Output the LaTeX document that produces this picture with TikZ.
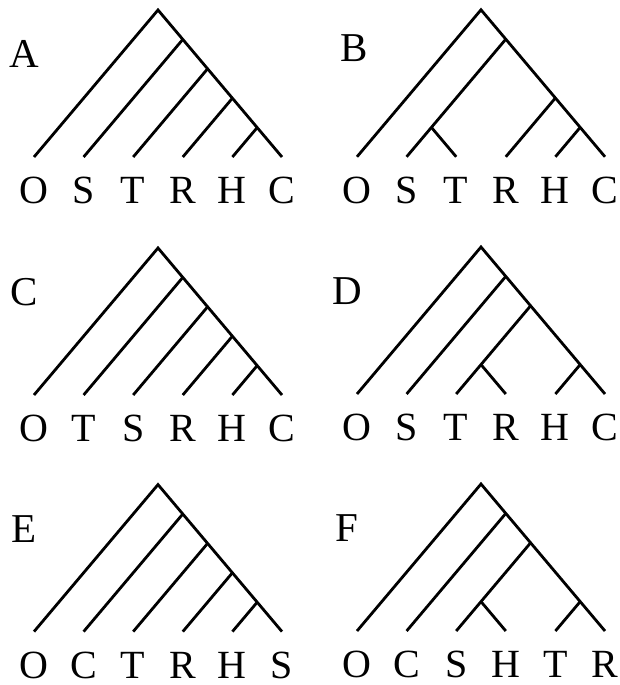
\documentclass[tikz,border=0pt]{standalone}
\usepackage{fontspec}
\setmainfont{Liberation Serif}

\begin{document}
\begin{tikzpicture}[
    x=12.4pt, y=14.7pt,
    branch/.style={line width=1.4pt},
    taxon/.style={font=\fontsize{20}{20}\selectfont, inner sep=0pt},
    panel/.style={font=\fontsize{20.5}{20.5}\selectfont, inner sep=0pt}
]
\useasboundingbox (0,0) rectangle (310pt,-342.5pt);

% A
\begin{scope}[xshift=79pt, yshift=-78.5pt]
\coordinate (aTop) at (0,5);
\coordinate (aN1) at (1,4);
\coordinate (aN2) at (2,3);
\coordinate (aN3) at (3,2);
\coordinate (aN4) at (4,1);
\foreach \tx [count=\i] in {O,S,T,R,H,C}
  {\coordinate (a\tx) at ({2*\i-7},0);
   \node[taxon] (a\tx lbl) at ({2*\i-7},-1.15) {\tx};}
\node[panel] (labA) at (-5.4,3.5) {A};
\draw[branch] (aO) -- (aTop) -- (aC);
\draw[branch] (aS) -- (aN1);
\draw[branch] (aT) -- (aN2);
\draw[branch] (aR) -- (aN3);
\draw[branch] (aH) -- (aN4);
\end{scope}

% B
\begin{scope}[xshift=240.5pt, yshift=-78.4pt]
\coordinate (bTop) at (0,5);
\coordinate (bN1) at (1,4);
\coordinate (bN2) at (-2,1);
\coordinate (bN3) at (3,2);
\coordinate (bN4) at (4,1);
\foreach \tx [count=\i] in {O,S,T,R,H,C}
  {\coordinate (b\tx) at ({2*\i-7},0);
   \node[taxon] (b\tx lbl) at ({2*\i-7},-1.15) {\tx};}
\node[panel] (labB) at (-5.1,3.7) {B};
\draw[branch] (bO) -- (bTop) -- (bC);
\draw[branch] (bS) -- (bN1);
\draw[branch] (bN2) -- (bT);
\draw[branch] (bR) -- (bN3);
\draw[branch] (bH) -- (bN4);
\end{scope}

% C
\begin{scope}[xshift=79pt, yshift=-197.5pt]
\coordinate (cTop) at (0,5);
\coordinate (cN1) at (1,4);
\coordinate (cN2) at (2,3);
\coordinate (cN3) at (3,2);
\coordinate (cN4) at (4,1);
\foreach \tx [count=\i] in {O,T,S,R,H,C}
  {\coordinate (c\tx) at ({2*\i-7},0);
   \node[taxon] (c\tx lbl) at ({2*\i-7},-1.15) {\tx};}
\node[panel] (labC) at (-5.4,3.5) {C};
\draw[branch] (cO) -- (cTop) -- (cC);
\draw[branch] (cT) -- (cN1);
\draw[branch] (cS) -- (cN2);
\draw[branch] (cR) -- (cN3);
\draw[branch] (cH) -- (cN4);
\end{scope}

% D
\begin{scope}[xshift=240.5pt, yshift=-197pt]
\coordinate (dTop) at (0,5);
\coordinate (dN1) at (1,4);
\coordinate (dN2) at (2,3);
\coordinate (dN3) at (0,1);
\coordinate (dN4) at (4,1);
\foreach \tx [count=\i] in {O,S,T,R,H,C}
  {\coordinate (d\tx) at ({2*\i-7},0);
   \node[taxon] (d\tx lbl) at ({2*\i-7},-1.15) {\tx};}
\node[panel] (labD) at (-5.4,3.5) {D};
\draw[branch] (dO) -- (dTop) -- (dC);
\draw[branch] (dS) -- (dN1);
\draw[branch] (dT) -- (dN2);
\draw[branch] (dN3) -- (dR);
\draw[branch] (dH) -- (dN4);
\end{scope}

% E
\begin{scope}[xshift=79pt, yshift=-315.8pt]
\coordinate (eTop) at (0,5);
\coordinate (eN1) at (1,4);
\coordinate (eN2) at (2,3);
\coordinate (eN3) at (3,2);
\coordinate (eN4) at (4,1);
\foreach \tx [count=\i] in {O,C,T,R,H,S}
  {\coordinate (e\tx) at ({2*\i-7},0);
   \node[taxon] (e\tx lbl) at ({2*\i-7},-1.15) {\tx};}
\node[panel] (labE) at (-5.4,3.5) {E};
\draw[branch] (eO) -- (eTop) -- (eS);
\draw[branch] (eC) -- (eN1);
\draw[branch] (eT) -- (eN2);
\draw[branch] (eR) -- (eN3);
\draw[branch] (eH) -- (eN4);
\end{scope}

% F
\begin{scope}[xshift=240.5pt, yshift=-315.5pt]
\coordinate (fTop) at (0,5);
\coordinate (fN1) at (1,4);
\coordinate (fN2) at (2,3);
\coordinate (fN3) at (0,1);
\coordinate (fN4) at (4,1);
\foreach \tx [count=\i] in {O,C,S,H,T,R}
  {\coordinate (f\tx) at ({2*\i-7},0);
   \node[taxon] (f\tx lbl) at ({2*\i-7},-1.15) {\tx};}
\node[panel] (labF) at (-5.4,3.5) {F};
\draw[branch] (fO) -- (fTop) -- (fR);
\draw[branch] (fC) -- (fN1);
\draw[branch] (fS) -- (fN2);
\draw[branch] (fN3) -- (fH);
\draw[branch] (fT) -- (fN4);
\end{scope}
\end{tikzpicture}
\end{document}
